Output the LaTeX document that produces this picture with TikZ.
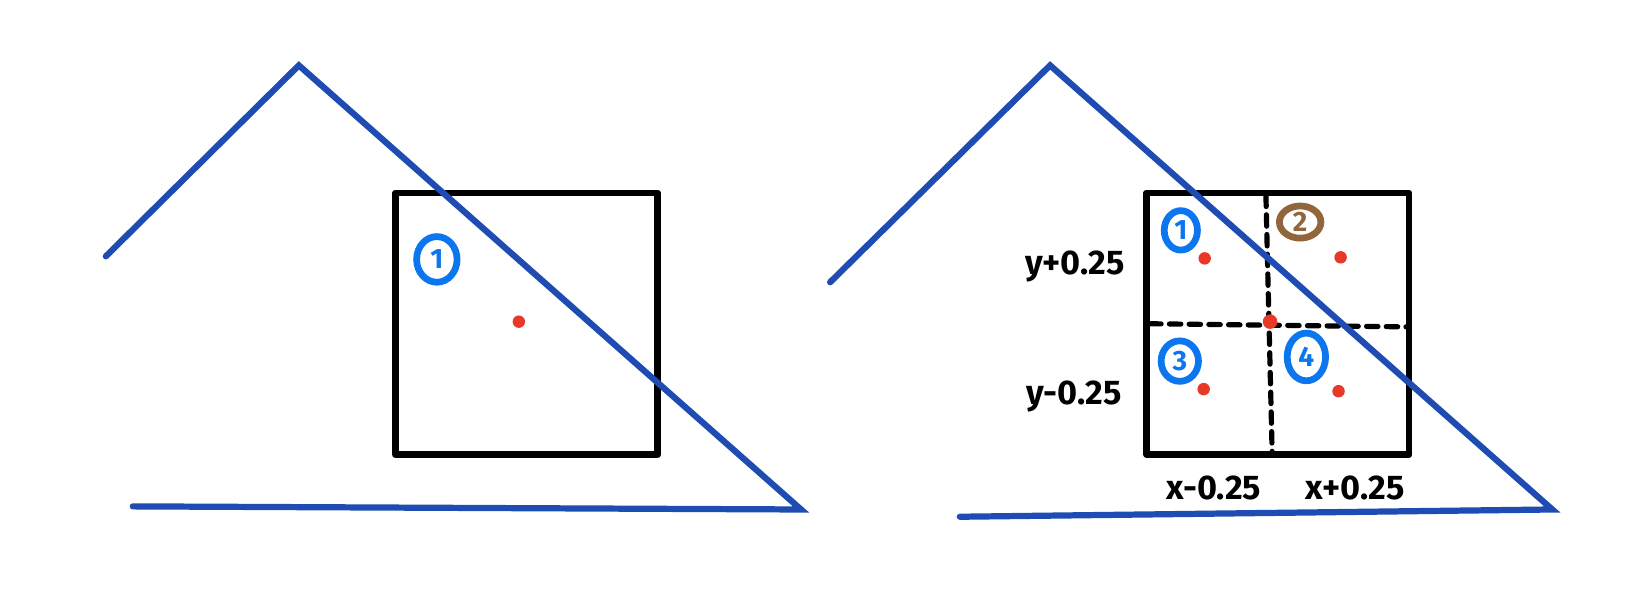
\documentclass[tikz,border=0pt]{standalone}
\usepackage{fontspec}
\setmainfont{Fira Sans}
\definecolor{lineblue}{RGB}{30,76,178}
\definecolor{numblue}{RGB}{12,118,238}
\definecolor{numbrown}{RGB}{145,102,58}
\definecolor{dotred}{RGB}{232,56,40}
\usetikzlibrary{shapes.geometric}
\tikzset{
  roof/.style={draw=lineblue,line width=6pt,line cap=round,line join=miter},
  cellbox/.style={draw=black,line width=6.5pt,line join=round},
  divider/.style={draw=black,line width=5pt,dash pattern=on 11pt off 8pt,line cap=round},
  reddot/.style={circle,fill=dotred,inner sep=0pt,minimum size=12pt},
  circnum/.style={ellipse,draw=numblue,text=numblue,line width=6.5pt,inner sep=0pt,
    minimum width=32pt,minimum height=38pt,font=\fontsize{27}{27}\selectfont\bfseries},
  axlabel/.style={font=\fontsize{33}{33}\selectfont\bfseries,inner sep=0pt}
}
\begin{document}
\begin{tikzpicture}[x=1pt,y=-1pt]
\useasboundingbox (0,0) rectangle (1568,590);
% ---------- left panel ----------
\coordinate (la) at (102,247);
\coordinate (lb) at (288,63);
\coordinate (lc) at (772,491);
\coordinate (ld) at (128,488);
\draw[cellbox] (381,186) rectangle (634,438);
\draw[roof] (la) -- (lb) -- (lc) -- (ld);
\node[reddot] (ldot) at (500,310) {};
\node[circnum,minimum width=39pt,minimum height=44pt] (lone) at (421,250) {1};
% ---------- right panel ----------
\coordinate (ra) at (800,272);
\coordinate (rb) at (1012,63);
\coordinate (rc) at (1496,491);
\coordinate (rd) at (925,498);
\draw[cellbox] (1105,186) rectangle (1358,438);
\coordinate (vt) at (1220,188);
\coordinate (vb) at (1226,436);
\coordinate (hl) at (1108,312);
\coordinate (hr) at (1355,315);
\draw[divider] (vt) -- (vb);
\draw[divider] (hl) -- (hr);
\draw[roof] (ra) -- (rb) -- (rc) -- (rd);
\node[reddot,minimum size=14pt] (rcen) at (1224,310) {};
\node[reddot] (rq1) at (1161,249) {};
\node[reddot] (rq2) at (1292,248) {};
\node[reddot] (rq3) at (1160,375) {};
\node[reddot] (rq4) at (1290,377) {};
\node[circnum] (rone) at (1138,222) {1};
\node[circnum,draw=numbrown,text=numbrown,minimum width=40pt,minimum height=31pt] (rtwo) at (1253,214) {2};
\node[circnum,minimum width=36pt,minimum height=39pt] (rthree) at (1137,348) {3};
\node[circnum,minimum width=37pt,minimum height=46pt] (rfour) at (1259,344) {4};
\node[axlabel] (yp) at (1036,257) {y+0.25};
\node[axlabel] (ym) at (1035,382) {y-0.25};
\node[axlabel] (xm) at (1170,470) {x-0.25};
\node[axlabel] (xp) at (1306,470) {x+0.25};
\end{tikzpicture}
\end{document}
